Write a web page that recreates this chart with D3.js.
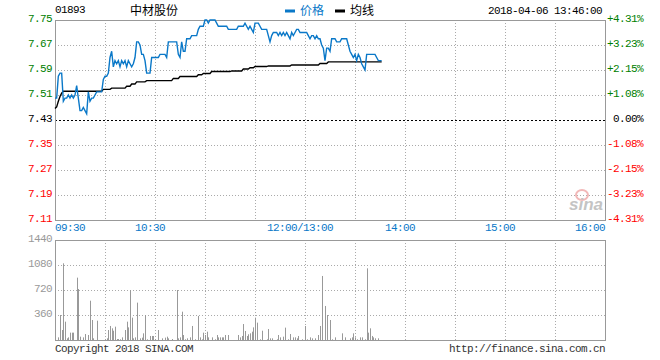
<!DOCTYPE html>
<html><head><meta charset="utf-8">
<script src="https://cdn.jsdelivr.net/npm/d3@7"></script>
<style>
body{margin:0;background:#fff}
svg{display:block}
.mono{font-family:"Liberation Mono","DejaVu Sans Mono",monospace;font-size:11px;letter-spacing:-0.6px}
.cjk{font-family:"Noto Sans CJK SC",sans-serif;font-size:12px}
</style></head><body>
<svg id="c" width="660" height="360"></svg>
<script>
// ---------- data ----------
const stockCode = "01893";
const stockName = "中材股份";
const stamp = "2018-04-06 13:46:00";
const prevClose = 7.43;
const priceTicks = [7.75, 7.67, 7.59, 7.51, 7.43, 7.35, 7.27, 7.19, 7.11];
const pctLabels = ["+4.31%", "+3.23%", "+2.15%", "+1.08%", "0.00%", "-1.08%", "-2.15%", "-3.23%", "-4.31%"];
const timeTicks = [0, 60, 150, 210, 270, 330];           // minutes after 09:30 (lunch removed)
const timeLabels = ["09:30", "10:30", "12:00/13:00", "14:00", "15:00", "16:00"];
const volTicks = [1440, 1080, 720, 360];
const volLabels = ["1440", "1080", "720", "360"];

// price per minute, 09:30 .. 13:46
const price = [
7.50,7.50,7.57,7.58,7.58,7.49,7.50,7.50,7.51,7.50,
7.51,7.50,7.51,7.54,7.50,7.46,7.46,7.47,7.46,7.45,
7.52,7.49,7.50,7.50,7.51,7.52,7.52,7.52,7.52,7.56,
7.57,7.57,7.58,7.63,7.65,7.60,7.62,7.61,7.62,7.60,
7.62,7.61,7.62,7.60,7.62,7.61,7.60,7.61,7.63,7.68,
7.68,7.67,7.64,7.64,7.62,7.58,7.58,7.58,7.63,7.63,
7.63,7.63,7.63,7.64,7.64,7.64,7.64,7.63,7.68,7.68,
7.68,7.68,7.68,7.68,7.64,7.63,7.68,7.65,7.65,7.69,
7.69,7.69,7.70,7.70,7.70,7.70,7.72,7.73,7.73,7.73,
7.75,7.75,7.74,7.75,7.75,7.75,7.75,7.74,7.73,7.73,
7.73,7.73,7.73,7.73,7.72,7.72,7.72,7.72,7.72,7.72,
7.73,7.73,7.73,7.73,7.74,7.73,7.72,7.73,7.72,7.71,
7.74,7.74,7.74,7.73,7.72,7.72,7.72,7.72,7.70,7.68,
7.70,7.71,7.71,7.71,7.70,7.71,7.70,7.71,7.70,7.71,
7.70,7.69,7.71,7.70,7.71,7.72,7.72,7.71,7.71,7.71,
7.71,7.71,7.70,7.69,7.70,7.70,7.69,7.70,7.69,7.69,
7.67,7.66,7.62,7.66,7.66,7.65,7.69,7.69,7.69,7.68,
7.68,7.68,7.69,7.69,7.69,7.69,7.67,7.65,7.64,7.63,
7.64,7.62,7.64,7.63,7.61,7.60,7.59,7.64,7.64,7.64,
7.64,7.64,7.64,7.63,7.62,7.62,7.62
];

// average price line per minute
const avgPrice = [
7.467,7.472,7.490,7.505,7.516,7.522,7.522,7.522,7.522,7.522,
7.522,7.522,7.522,7.522,7.522,7.522,7.522,7.522,7.522,7.522,
7.522,7.522,7.522,7.522,7.522,7.522,7.522,7.522,7.522,7.528,
7.528,7.528,7.528,7.528,7.532,7.532,7.532,7.532,7.532,7.532,
7.532,7.532,7.532,7.538,7.538,7.538,7.545,7.545,7.545,7.552,
7.552,7.552,7.552,7.552,7.552,7.556,7.556,7.556,7.556,7.556,
7.556,7.556,7.556,7.556,7.556,7.556,7.556,7.556,7.556,7.556,
7.556,7.563,7.563,7.563,7.563,7.569,7.569,7.569,7.569,7.569,
7.569,7.569,7.569,7.569,7.569,7.569,7.575,7.575,7.575,7.579,
7.579,7.579,7.579,7.579,7.585,7.585,7.585,7.585,7.585,7.585,
7.585,7.585,7.585,7.585,7.585,7.585,7.587,7.587,7.587,7.587,
7.587,7.587,7.587,7.593,7.593,7.593,7.593,7.597,7.597,7.597,
7.601,7.601,7.601,7.601,7.601,7.601,7.601,7.601,7.603,7.603,
7.603,7.603,7.603,7.603,7.603,7.603,7.603,7.603,7.603,7.603,
7.603,7.603,7.606,7.606,7.606,7.606,7.606,7.606,7.606,7.606,
7.606,7.606,7.606,7.606,7.606,7.606,7.606,7.606,7.606,7.611,
7.611,7.611,7.611,7.611,7.616,7.616,7.616,7.616,7.616,7.616,
7.616,7.616,7.616,7.616,7.616,7.616,7.616,7.616,7.616,7.616,
7.616,7.616,7.616,7.616,7.616,7.616,7.616,7.616,7.616,7.616,
7.616,7.616,7.616,7.616,7.616,7.616,7.616
];

// volume per minute
const volume = [
0,0,38,360,144,1104,264,24,38,106,
106,106,0,898,734,48,0,38,86,0,
72,566,288,24,0,278,0,0,0,0,
10,24,144,202,168,134,192,14,14,10,
38,0,144,264,182,720,322,24,38,538,
0,24,34,96,360,10,0,58,58,58,
10,0,144,0,24,0,34,48,24,0,
14,0,0,720,24,38,408,72,10,24,
0,38,202,0,10,0,346,38,10,106,
72,120,38,0,38,0,10,72,38,38,
38,38,72,0,72,0,0,0,0,0,
72,38,58,230,130,58,82,96,120,182,
322,250,0,10,134,0,0,10,158,24,
24,0,0,10,72,38,0,48,178,0,
10,86,0,38,38,24,58,0,10,0,
202,10,0,38,24,0,24,0,72,202,
922,0,490,360,0,288,10,0,38,0,
0,0,96,0,38,0,0,24,38,96,
38,10,0,38,38,0,10,1032,106,168,
58,38,24,0,24,0,0
];

// ---------- drawing ----------
const svg = d3.select("#c");
const L = 55, R = 605, PT = 20, PB = 220, VT = 240, VB = 340;
const x = d3.scaleLinear().domain([0, 330]).range([L, R]);
const y = d3.scaleLinear().domain([7.11, 7.75]).range([PB, PT]);
const yv = d3.scaleLinear().domain([0, 1440]).range([VB, VT]);

svg.append("rect").attr("width", 660).attr("height", 360).attr("fill", "#fff");

const CW = 6; // monospace advance
function monoText(str, xStart, baseline, color) {
  return svg.append("text").attr("class", "mono").attr("x", xStart).attr("y", baseline)
    .attr("fill", color).text(str);
}

// vertical grid
const gridMins = d3.range(30, 330, 30);
const grid = svg.append("g").attr("stroke", "#aaa").attr("stroke-dasharray", "1,2").attr("stroke-width", 1);
gridMins.forEach(m => {
  const gx = Math.round(x(m)) + 0.5;
  grid.append("line").attr("x1", gx).attr("x2", gx).attr("y1", PT).attr("y2", PB);
  grid.append("line").attr("x1", gx).attr("x2", gx).attr("y1", VT).attr("y2", VB);
});
// horizontal grid price
priceTicks.forEach(p => {
  if (p === 7.75 || p === 7.11 || p === prevClose) return;
  const gy = Math.round(y(p)) + 0.5;
  grid.append("line").attr("x1", L).attr("x2", R).attr("y1", gy).attr("y2", gy);
});
volTicks.forEach(v => {
  if (v === 1440) return;
  const gy = Math.round(yv(v)) + 0.5;
  grid.append("line").attr("x1", L).attr("x2", R).attr("y1", gy).attr("y2", gy);
});
// prev close dashed
svg.append("line").attr("x1", L).attr("x2", R)
  .attr("y1", Math.round(y(prevClose)) + 0.5).attr("y2", Math.round(y(prevClose)) + 0.5)
  .attr("stroke", "#000").attr("stroke-dasharray", "2,2");

// frames
svg.append("rect").attr("x", L + 0.5).attr("y", PT + 0.5).attr("width", R - L).attr("height", PB - PT)
  .attr("fill", "none").attr("stroke", "#999");
svg.append("rect").attr("x", L + 0.5).attr("y", VT + 0.5).attr("width", R - L).attr("height", VB - VT)
  .attr("fill", "none").attr("stroke", "#999");

// volume bars
svg.append("g").selectAll("rect").data(volume).join("rect")
  .attr("x", (d, i) => Math.round(x(i)))
  .attr("width", 1)
  .attr("y", d => yv(d))
  .attr("height", d => VB - yv(d))
  .attr("fill", "#999");

// sina logo
const logo = svg.append("g");
logo.append("ellipse").attr("cx", 582).attr("cy", 195).attr("rx", 6).attr("ry", 5)
  .attr("fill", "none").attr("stroke", "#f2b8b8").attr("stroke-width", 2);
logo.append("text").attr("x", 569).attr("y", 210).attr("font-family", "Arial, Liberation Sans, sans-serif")
  .attr("font-size", 17).attr("font-style", "italic").attr("font-weight", "bold")
  .attr("fill", "#c4c4c4").text("sina");

// lines
const line = d3.line().x((d, i) => x(i)).y(d => y(d));
svg.append("path").datum(avgPrice).attr("d", line).attr("fill", "none")
  .attr("stroke", "#000").attr("stroke-width", 1.4);
svg.append("path").datum(price).attr("d", line).attr("fill", "none")
  .attr("stroke", "#0a78c8").attr("stroke-width", 1.4);

// left price labels
priceTicks.forEach(p => {
  const s = p.toFixed(2);
  const c = p > prevClose ? "#008000" : (p < prevClose ? "#ff0000" : "#000");
  monoText(s, 52 - s.length * CW, Math.round(y(p)) + 1.5, c);
});
// right pct labels
pctLabels.forEach((s, i) => {
  const p = priceTicks[i];
  const c = p > prevClose ? "#008000" : (p < prevClose ? "#ff0000" : "#000");
  monoText(s, 643 - s.length * CW, Math.round(y(p)) + 1.5, c);
});
// volume labels
volTicks.forEach((v, i) => {
  const s = volLabels[i];
  monoText(s, 52 - s.length * CW, Math.round(yv(v)) + 1.5, "#999");
});
// time labels
timeTicks.forEach((m, i) => {
  const s = timeLabels[i];
  const w = s.length * CW;
  let sx;
  if (i === 0) sx = L;
  else if (i === timeTicks.length - 1) sx = R - w;
  else sx = x(m) - 5 - w / 2;
  monoText(s, sx, 230.5, "#0a78c8");
});

// header
monoText(stockCode, 55, 13, "#000");
svg.append("text").attr("class", "cjk").attr("x", 130).attr("y", 15).attr("fill", "#000").text(stockName);
svg.append("rect").attr("x", 285).attr("y", 9.5).attr("width", 10).attr("height", 3).attr("fill", "#0a78c8");
svg.append("text").attr("class", "cjk").attr("x", 300).attr("y", 15).attr("fill", "#0a78c8").text("价格");
svg.append("rect").attr("x", 335).attr("y", 9.5).attr("width", 10).attr("height", 3).attr("fill", "#000");
svg.append("text").attr("class", "cjk").attr("x", 350).attr("y", 15).attr("fill", "#000").text("均线");
monoText(stamp, 602 - stamp.length * CW, 13.5, "#000");

// footer
monoText("Copyright 2018 SINA.COM", 55, 352, "#333");
const url = "http://finance.sina.com.cn";
monoText(url, 605 - url.length * CW, 352, "#333");
</script>
</body></html>
